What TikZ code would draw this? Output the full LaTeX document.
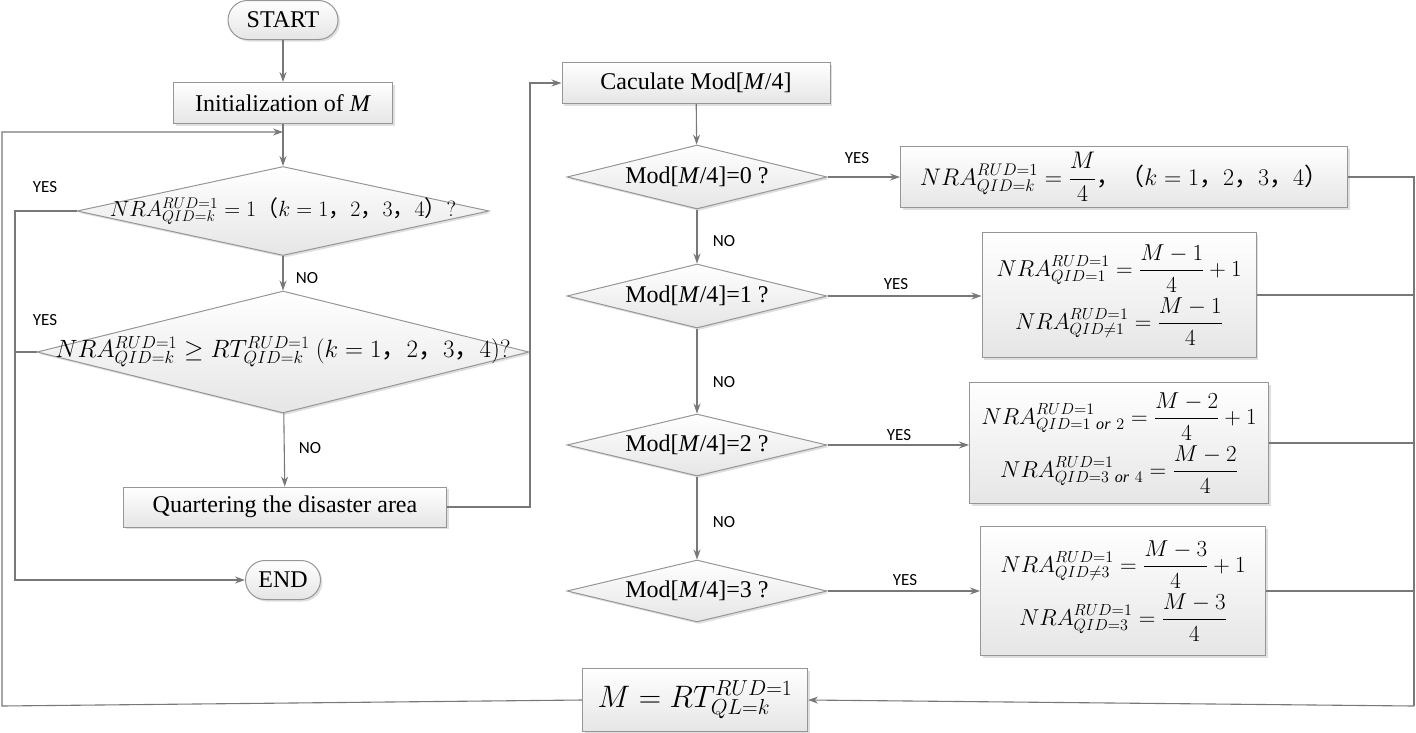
\RequirePackage{fix-cm}
\documentclass[tikz,border=0pt]{standalone}
\usepackage{fontspec}
\setmainfont{Liberation Serif}
\newfontfamily\cjk{Noto Sans CJK SC}
\newfontfamily\labfont{Carlito}
\usetikzlibrary{shapes.geometric,shapes.misc,shadows,arrows.meta}
\definecolor{linegray}{RGB}{120,120,120}
\definecolor{boxgray}{RGB}{150,150,150}
\newcommand{\zhcomma}{\mbox{\cjk ，}}
\newcommand{\zhlp}{\mbox{\cjk （}}
\newcommand{\zhrp}{\mbox{\cjk ）}}
\begin{document}
\begin{tikzpicture}[x=1pt,y=-1pt,>={Stealth[length=10pt,width=7pt]},
    line/.style={draw=linegray,line width=1.1pt},
    shadowed/.style={draw=boxgray,line width=1pt,top color=white,bottom color=gray!20,
      drop shadow={shadow xshift=2pt,shadow yshift=-2pt,opacity=0.25}},
    startstop/.style={shadowed,rounded rectangle,minimum height=39,inner sep=0pt,font=\fontsize{24}{28}\selectfont},
    process/.style={shadowed,rectangle,minimum height=41,inner sep=0pt,font=\fontsize{24}{28}\selectfont},
    decision/.style={shadowed,diamond,aspect=4,inner sep=0pt,minimum width=260,font=\fontsize{24}{28}\selectfont},
    result/.style={shadowed,rectangle,align=center,inner sep=0pt,font=\fontsize{23}{25}\selectfont},
    formula/.style={font=\fontsize{22}{26}\selectfont},
    yesno/.style={font=\labfont\fontsize{17}{20}\selectfont,inner sep=0pt}]
  \useasboundingbox (0,0) rectangle (1416,732);

  % Left column
  \node[startstop,minimum width=110] (start) at (283,20) {START};
  \node[process,minimum width=219] (init) at (283,103) {Initialization of \textit{M}};
  \node[decision,minimum width=412,minimum height=89,
    label={[formula]center:$NRA^{RUD=1}_{QID=k}=1\zhlp k=1\zhcomma 2\zhcomma 3\zhcomma 4\zhrp ?$}] (q1) at (283,211) {};
  \node[decision,minimum width=492,minimum height=122,
    label={[formula,font=\fontsize{25}{28}\selectfont]center:$NRA^{RUD=1}_{QID=k}\geq RT^{RUD=1}_{QID=k}\ \bigl(k=1\zhcomma 2\zhcomma 3\zhcomma 4\bigr)?$}] (q2) at (283,352) {};
  \node[process,minimum width=323,minimum height=40] (quarter) at (285,507) {Quartering the disaster area};
  \node[startstop,minimum width=75] (fin) at (283,580) {END};

  % Right column
  \node[process,minimum width=268] (calc) at (696,83) {Caculate Mod[\textit{M}/4]};
  \node[decision,minimum height=64] (m0) at (697,177) {Mod[\textit{M}/4]=0 ?};
  \node[decision,minimum height=64] (m1) at (697,296) {Mod[\textit{M}/4]=1 ?};
  \node[decision,minimum height=62] (m2) at (697,445) {Mod[\textit{M}/4]=2 ?};
  \node[decision,minimum height=62] (m3) at (697,591) {Mod[\textit{M}/4]=3 ?};

  % Results
  \node[result,minimum width=447,minimum height=61,font=\fontsize{24}{26}\selectfont] (r0) at (1124,177)
    {$\displaystyle NRA^{RUD=1}_{QID=k}=\frac{M}{4}\zhcomma\zhlp k=1\zhcomma 2\zhcomma 3\zhcomma 4\zhrp$};
  \node[result,minimum width=274,minimum height=125] (r1) at (1119,295)
    {$\displaystyle NRA^{RUD=1}_{QID=1}=\frac{M-1}{4}+1$\\[5pt] $\displaystyle NRA^{RUD=1}_{QID\neq1}=\frac{M-1}{4}$};
  \node[result,minimum width=299,minimum height=121] (r2) at (1119,443)
    {$\displaystyle NRA^{RUD=1}_{QID=1\ \mathit{or}\ 2}=\frac{M-2}{4}+1$\\[5pt] $\displaystyle NRA^{RUD=1}_{QID=3\ \mathit{or}\ 4}=\frac{M-2}{4}$};
  \node[result,minimum width=285,minimum height=129] (r3) at (1123,591)
    {$\displaystyle NRA^{RUD=1}_{QID\neq3}=\frac{M-3}{4}+1$\\[5pt] $\displaystyle NRA^{RUD=1}_{QID=3}=\frac{M-3}{4}$};
  \node[result,minimum width=225,minimum height=63,font=\fontsize{31}{35}\selectfont] (upd) at (695,700)
    {$M=RT^{RUD=1}_{QL=k}$};

  % Labels
  \node[yesno] (yes1) at (45,187) {YES};
  \node[yesno] (yes2) at (45,320) {YES};
  \node[yesno] (no1) at (307,278) {NO};
  \node[yesno] (no2) at (310,448) {NO};
  \node[yesno] (yes3) at (857,158) {YES};
  \node[yesno] (yes4) at (896,284) {YES};
  \node[yesno] (yes5) at (899,435) {YES};
  \node[yesno] (yes6) at (905,580) {YES};
  \node[yesno] (no3) at (724,241) {NO};
  \node[yesno] (no4) at (724,382) {NO};
  \node[yesno] (no5) at (724,522) {NO};

  % Corners
  \coordinate (join) at (283,132);
  \coordinate (lc) at (2,706);
  \coordinate (rc) at (1414,706);

  % Edges
  \draw[line,->] (start) -- (init);
  \draw[line,->] (init) -- (q1);
  \draw[line,->] (upd.west) -- (lc) |- (join);
  \draw[line,->] (q1) -- (q2);
  \draw[line,->] (q2) -- (quarter);
  \draw[line,->] (q1.west) -- (15,211) |- (fin.west);
  \draw[line] (q2.west) -- (15,352);
  \draw[line,->] (quarter.east) -- (530,507) |- (calc.west);
  \draw[line,->] (calc) -- (m0);
  \draw[line,->] (m0) -- (m1);
  \draw[line,->] (m1) -- (m2);
  \draw[line,->] (m2) -- (m3);
  \draw[line,->] (m0.east) -- (r0.west |- m0.east);
  \draw[line,->] (m1.east) -- (r1.west |- m1.east);
  \draw[line,->] (m2.east) -- (r2.west |- m2.east);
  \draw[line,->] (m3.east) -- (r3.west |- m3.east);
  \draw[line] (r0.east) -- (1414,177) -- (rc);
  \draw[line] (r1.east) -- (1414,295);
  \draw[line] (r2.east) -- (1414,443);
  \draw[line] (r3.east) -- (1414,591);
  \draw[line,->] (rc) -- (upd.east);
\end{tikzpicture}
\end{document}
